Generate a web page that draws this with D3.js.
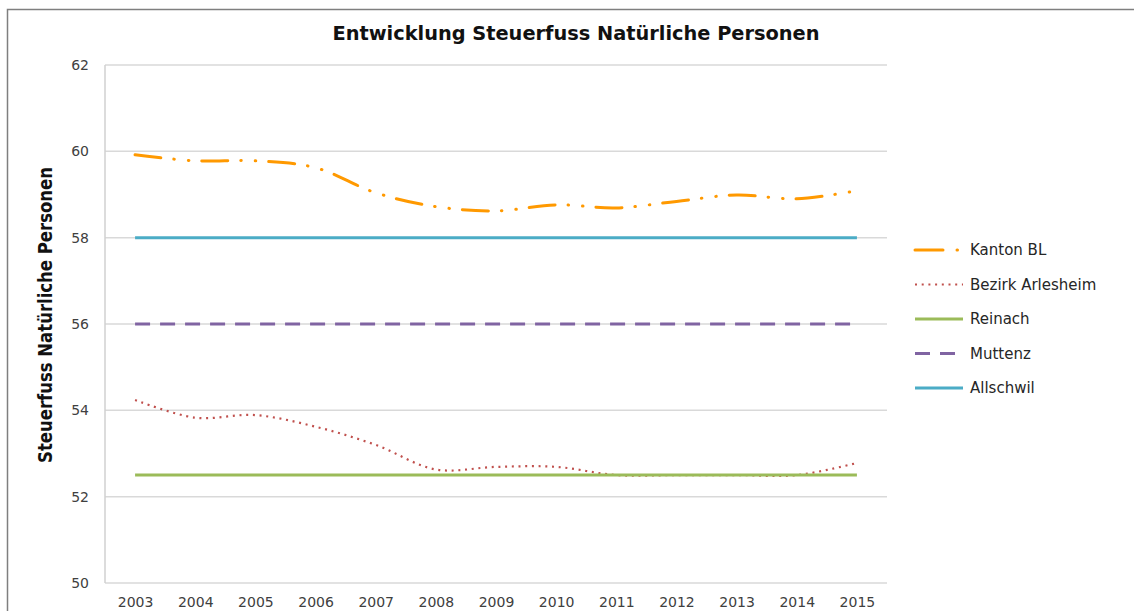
<!DOCTYPE html>
<meta charset="utf-8">
<style>
body { margin: 0; background: #fff; }
svg { font-family: "DejaVu Sans", sans-serif; }
.grid line { stroke: #d9d9d9; stroke-width: 1.5; }
.tick text { fill: #404040; font-size: 14px; font-family: "DejaVu Sans", sans-serif; }
.legend text { fill: #262626; font-size: 15px; }
</style>
<body>
<script src="https://cdn.jsdelivr.net/npm/d3@7"></script>
<script>
var years = ["2003","2004","2005","2006","2007","2008","2009","2010","2011","2012","2013","2014","2015"];
var kantonBL = [59.92, 59.78, 59.78, 59.62, 59.04, 58.72, 58.62, 58.76, 58.69, 58.84, 58.99, 58.9, 59.09];
var bezirkArlesheim = [54.24, 53.83, 53.89, 53.62, 53.2, 52.63, 52.69, 52.69, 52.5, 52.5, 52.5, 52.5, 52.78];
var reinach = [52.5, 52.5, 52.5, 52.5, 52.5, 52.5, 52.5, 52.5, 52.5, 52.5, 52.5, 52.5, 52.5];
var muttenz = [56, 56, 56, 56, 56, 56, 56, 56, 56, 56, 56, 56, 56];
var allschwil = [58, 58, 58, 58, 58, 58, 58, 58, 58, 58, 58, 58, 58];
var yTicks = [50, 52, 54, 56, 58, 60, 62];

var w = 1134, h = 611,
    plotLeft = 105, plotRight = 887, plotTop = 65, plotBottom = 583;

var series = [
  {name: "Kanton BL", values: kantonBL, color: "#ff9900", width: 3, dash: "26 13 0.5 14 0.5 13", cap: "round", smooth: true},
  {name: "Bezirk Arlesheim", values: bezirkArlesheim, color: "#c0504d", width: 2.2, dash: "2 4.7", cap: "butt", smooth: true},
  {name: "Reinach", values: reinach, color: "#9bbb59", width: 3, dash: null, cap: "butt", smooth: false},
  {name: "Muttenz", values: muttenz, color: "#8064a2", width: 3, dash: "15 10", cap: "butt", smooth: false},
  {name: "Allschwil", values: allschwil, color: "#4bacc6", width: 3, dash: null, cap: "butt", smooth: false}
];

var svg = d3.select("body").append("svg")
    .attr("width", w)
    .attr("height", h);

/* outer frame */
svg.append("path")
    .attr("d", "M7.5," + h + "V9.5H" + w)
    .attr("fill", "none")
    .attr("stroke", "#7f7f7f")
    .attr("stroke-width", 1.5);

var x = d3.scalePoint().domain(years).range([plotLeft, plotRight]).padding(0.5);
var y = d3.scaleLinear().domain([50, 62]).range([plotBottom, plotTop]);

/* gridlines */
svg.append("g")
    .attr("class", "grid")
  .selectAll("line")
    .data(yTicks)
  .enter().append("line")
    .attr("x1", plotLeft)
    .attr("x2", plotRight)
    .attr("y1", function(d) { return y(d); })
    .attr("y2", function(d) { return y(d); });

svg.append("line")
    .attr("x1", plotLeft).attr("x2", plotLeft)
    .attr("y1", plotTop).attr("y2", plotBottom)
    .attr("stroke", "#d0d0d0")
    .attr("stroke-width", 1.5);

/* y axis */
var yAxis = svg.append("g")
    .attr("transform", "translate(" + (plotLeft - 16) + ",0)")
    .call(d3.axisLeft(y).tickValues(yTicks).tickSize(0).tickPadding(0));
yAxis.select(".domain").remove();

/* x axis */
var xAxis = svg.append("g")
    .attr("transform", "translate(0," + (plotBottom + 14) + ")")
    .call(d3.axisBottom(x).tickSize(0).tickPadding(0));
xAxis.select(".domain").remove();

/* lines */
series.forEach(function(s) {
  var line = d3.line()
      .x(function(d, i) { return x(years[i]); })
      .y(function(d) { return y(d); })
      .curve(s.smooth ? d3.curveCatmullRom.alpha(0.5) : d3.curveLinear);
  svg.append("path")
      .datum(s.values)
      .attr("class", "series")
      .attr("d", line)
      .attr("fill", "none")
      .attr("stroke", s.color)
      .attr("stroke-width", s.width)
      .attr("stroke-linecap", s.cap)
      .attr("stroke-dasharray", s.dash);
});

// reinach on top so it covers the flat part of the bezirk line
svg.selectAll("path.series").filter(function(d) { return d === reinach; }).raise();

/* title */
svg.append("text")
    .attr("x", 576)
    .attr("y", 40)
    .attr("text-anchor", "middle")
    .attr("font-family", "'DejaVu Sans Condensed', sans-serif")
    .attr("font-weight", "bold")
    .attr("font-size", 19)
    .attr("fill", "#111")
    .attr("textLength", 487)
    .attr("lengthAdjust", "spacingAndGlyphs")
    .text("Entwicklung Steuerfuss Natürliche Personen");

/* y title */
svg.append("text")
    .attr("transform", "translate(52,315) rotate(-90)")
    .attr("text-anchor", "middle")
    .attr("font-family", "'DejaVu Sans Condensed', sans-serif")
    .attr("font-weight", "bold")
    .attr("font-size", 20)
    .attr("fill", "#111")
    .attr("textLength", 296)
    .attr("lengthAdjust", "spacingAndGlyphs")
    .text("Steuerfuss Natürliche Personen");

/* legend */
var legend = svg.append("g")
    .attr("class", "legend")
  .selectAll("g")
    .data(series)
  .enter().append("g")
    .attr("transform", function(d, i) { return "translate(915," + (250 + i * 34.5) + ")"; });

legend.append("line")
    .attr("x1", 0)
    .attr("x2", function(d) { return d.name === "Kanton BL" ? 43 : 48; })
    .attr("stroke", function(d) { return d.color; })
    .attr("stroke-width", function(d) { return d.width; })
    .attr("stroke-linecap", function(d) { return d.cap; })
    .attr("stroke-dasharray", function(d) {
      if (d.name === "Kanton BL") return "28 14 0.5 20";
      return d.dash;
    });

legend.append("text")
    .attr("x", 55)
    .attr("dy", "0.35em")
    .text(function(d) { return d.name; });
</script>
</body>
